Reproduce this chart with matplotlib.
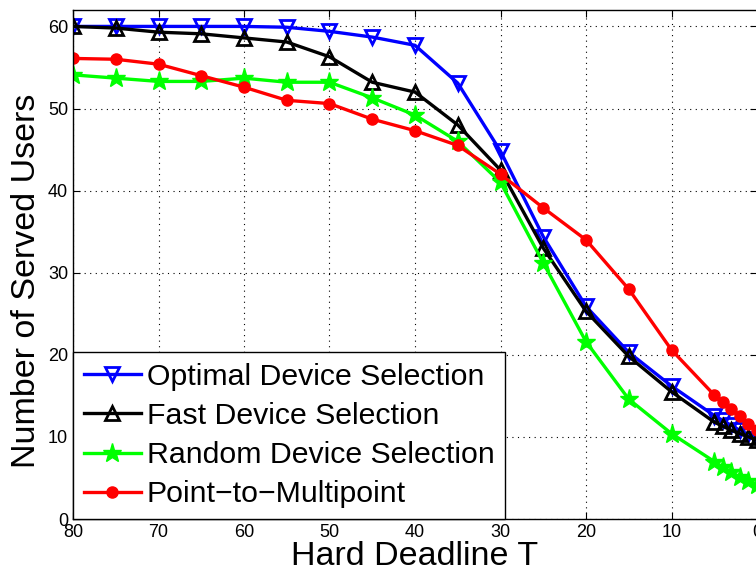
import matplotlib
matplotlib.use("Agg")
import matplotlib.pyplot as plt

plt.rcParams['font.family'] = ['Liberation Sans', 'DejaVu Sans']

deadline = [80, 75, 70, 65, 60, 55, 50, 45, 40, 35, 30, 25, 20, 15, 10, 5, 4, 3, 2, 1, 0]
optimal = [60.0, 60.0, 60.0, 60.0, 60.0, 59.9, 59.4, 58.7, 57.7, 53.1, 44.8, 34.4, 25.9, 20.3, 16.2,
           12.6, 12.0, 11.4, 10.8, 10.3, 9.8]
fast = [60.0, 59.8, 59.3, 59.1, 58.6, 58.1, 56.3, 53.2, 52.0, 48.0, 42.5, 33.0, 25.3, 19.8, 15.5,
        11.8, 11.3, 10.8, 10.4, 10.0, 9.6]
random_sel = [54.1, 53.7, 53.3, 53.3, 53.7, 53.2, 53.2, 51.3, 49.2, 46.0, 41.0, 31.2, 21.6, 14.6, 10.4,
              7.0, 6.3, 5.7, 5.1, 4.6, 4.1]
p2mp = [56.1, 56.0, 55.4, 54.0, 52.6, 51.0, 50.6, 48.7, 47.3, 45.5, 42.0, 37.9, 34.0, 28.0, 20.6,
        15.1, 14.2, 13.4, 12.6, 11.6, 10.8]

fig = plt.figure(figsize=(7.56, 5.76), dpi=100)
ax = fig.add_axes([73 / 756, 57 / 576, 684 / 756, 509 / 576])

lw = 2.4
ax.plot(deadline, optimal, color='blue', lw=lw, marker='v', ms=10, mfc='none', mew=2,
        label='Optimal Device Selection')
ax.plot(deadline, fast, color='black', lw=lw, marker='^', ms=10, mfc='none', mew=2,
        label='Fast Device Selection')
ax.plot(deadline, random_sel, color='#00ff00', lw=lw, marker='*', ms=14,
        label='Random Device Selection')
ax.plot(deadline, p2mp, color='red', lw=lw, marker='o', ms=8,
        label='Point\u2212to\u2212Multipoint')

ax.set_xlim(80, 0)
ax.set_ylim(0, 62)
ax.set_xticks(range(0, 81, 10))
ax.set_yticks(range(0, 61, 10))
ax.tick_params(direction='in', top=True, right=True, labelsize=13, length=5)
ax.grid(True, color='black', linestyle=(0, (1, 4)), linewidth=0.8)
for s in ax.spines.values():
    s.set_linewidth(1.0)

ax.set_xlabel('Hard Deadline T', fontsize=24.5, labelpad=0)
ax.set_ylabel('Number of Served Users', fontsize=24.5)
ax.yaxis.set_label_coords(-0.045, 0.468)

leg = ax.legend(loc='lower left', fontsize=21.8, fancybox=False, framealpha=1,
                edgecolor='black', borderaxespad=0, handlelength=1.88,
                labelspacing=0.37, borderpad=0.35, handletextpad=0.2)
leg.get_frame().set_linewidth(1.0)

fig.savefig('out.png', dpi=100)
